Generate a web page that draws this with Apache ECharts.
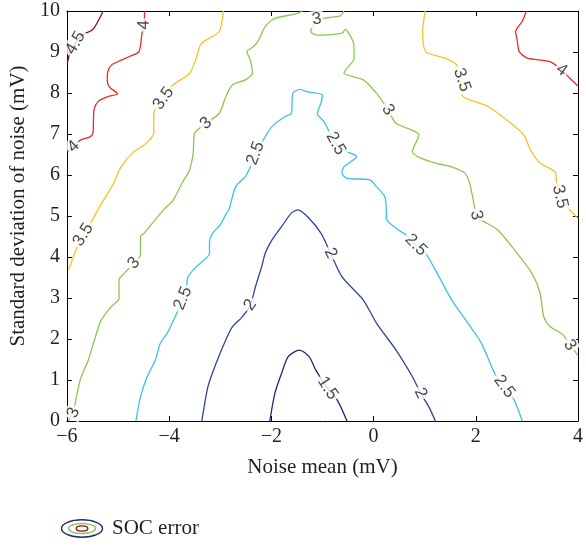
<!DOCTYPE html>
<html lang="en">
<head>
    <meta charset="UTF-8">
    <title>SOC error contour</title>
    <style>
        html, body { margin: 0; padding: 0; background: #fff; }
    </style>
</head>
<body>
<div id="container" style="width: 586px;height:548px;"></div>

<script src="https://cdn.jsdelivr.net/npm/echarts@6/dist/echarts.min.js"></script>
<script type="text/javascript">

// tick labels
var xTicks = [-6, -4, -2, 0, 2, 4];
var yTicks = [0, 1, 2, 3, 4, 5, 6, 7, 8, 9, 10];

// contour lines, [noise mean, std deviation]
var c15 = [[-2.03,0],[-1.93,0.68],[-1.80,1.16],[-1.67,1.57],[-1.45,1.73],[-1.26,1.57],[-1.13,1.24],[-0.90,0.80],[-0.71,0.51],[-0.52,0]];
var c20 = [[-3.36,0],[-3.24,0.84],[-3.08,1.41],[-2.89,1.98],[-2.76,2.30],[-2.57,2.54],[-2.41,2.83],[-2.31,3.28],[-2.19,3.76],[-2.12,4.09],[-1.99,4.41],[-1.80,4.74],[-1.61,5.07],[-1.48,5.15],[-1.29,4.98],[-1.03,4.58],[-0.84,4.09],[-0.62,3.52],[-0.20,2.95],[0.06,2.38],[0.44,1.73],[0.76,1.08],[0.92,0.68],[1.08,0.35],[1.21,0]];
var c25 = [[-4.65,0],[-4.56,0.59],[-4.43,1.08],[-4.27,1.49],[-4.17,1.90],[-4.04,2.14],[-3.85,2.63],[-3.73,2.99],[-3.66,3.28],[-3.63,3.52],[-3.47,3.76],[-3.21,4.09],[-3.21,4.37],[-3.15,4.58],[-2.99,4.80],[-2.90,5.02],[-2.83,5.15],[-2.70,5.71],[-2.51,5.96],[-2.41,6.20],[-2.31,6.53],[-2.12,6.93],[-1.99,7.18],[-1.74,7.42],[-1.61,7.50],[-1.58,7.99],[-1.45,8.09],[-1.29,8.03],[-1.00,7.95],[-1.03,7.75],[-1.10,7.50],[-0.97,7.30],[-0.87,7.06],[-0.74,6.77],[-0.52,6.57],[-0.33,6.45],[-0.58,6.20],[-0.62,6.04],[-0.52,5.92],[-0.07,5.88],[0.06,5.71],[0.22,5.47],[0.25,5.07],[0.25,4.94],[0.44,4.70],[0.63,4.54],[0.83,4.29],[1.02,4.09],[1.28,3.52],[1.53,2.95],[1.85,2.38],[2.11,1.90],[2.37,1.16],[2.56,0.84],[2.75,0.51],[2.91,0]];
var c30a = [[-5.97,0],[-5.87,0.27],[-5.74,1.00],[-5.58,1.49],[-5.46,1.98],[-5.33,2.46],[-5.13,2.79],[-4.98,2.99],[-4.98,3.44],[-4.88,3.60],[-4.69,3.85],[-4.56,4.05],[-4.56,4.50],[-4.49,4.58],[-4.11,5.15],[-3.92,5.39],[-3.73,5.84],[-3.60,6.12],[-3.53,6.53],[-3.50,7.02],[-3.28,7.26],[-3.02,7.50],[-2.89,7.91],[-2.76,8.20],[-2.51,8.32],[-2.37,8.48],[-2.41,8.80],[-2.48,9.01],[-2.35,9.13],[-2.25,9.29],[-2.12,9.62],[-1.93,9.82],[-1.48,9.94],[-1.40,10]];
var c30b = [[-0.58,10],[-0.65,9.88],[-0.81,9.85],[-1.00,9.82],[-1.11,9.80],[-1.16,9.71],[-1.23,9.50],[-1.10,9.41],[-0.62,9.46],[-0.55,9.55],[-0.49,9.46],[-0.39,9.21],[-0.38,8.85],[-0.55,8.56],[-0.58,8.48],[-0.20,8.32],[0.06,7.99],[0.22,7.71],[0.28,7.59],[0.44,7.26],[0.89,6.98],[0.76,6.57],[0.86,6.45],[1.21,6.29],[1.53,6.20],[1.79,6.04],[1.88,5.80],[1.95,5.39],[2.01,5.02],[2.11,4.90],[2.43,4.66],[2.81,4.09],[3.10,3.60],[3.26,3.11],[3.33,2.54],[3.46,2.30],[3.71,2.10],[3.84,1.85],[3.97,1.65],[4.00,1.59]];
var c35a = [[-2.94,10],[-3.02,9.50],[-3.37,9.21],[-3.47,8.85],[-3.60,8.48],[-3.92,8.20],[-4.11,7.87],[-4.30,7.50],[-4.30,7.02],[-4.49,6.73],[-4.69,6.57],[-4.94,6.20],[-5.07,5.84],[-5.20,5.55],[-5.36,5.23],[-5.52,4.86],[-5.68,4.54],[-5.81,4.21],[-5.97,3.68]];
var c35b = [[1.01,10],[0.96,9.50],[1.02,9.01],[1.40,8.85],[1.63,8.68],[1.73,8.32],[1.73,7.95],[2.24,7.67],[2.69,7.26],[2.94,6.98],[3.07,6.61],[3.26,6.29],[3.55,6.08],[3.58,5.84],[3.65,5.47],[3.84,5.15],[4.00,4.94]];
var c40a = [[-4.48,10],[-4.49,9.66],[-4.53,9.46],[-4.59,9.01],[-4.78,8.89],[-4.94,8.80],[-5.13,8.68],[-5.20,8.52],[-5.21,8.32],[-5.17,8.15],[-5.01,7.98],[-5.20,7.91],[-5.39,7.79],[-5.47,7.59],[-5.49,7.02],[-5.55,6.93],[-5.74,6.85],[-5.87,6.69],[-5.99,6.57]];
var c40b = [[2.99,10],[2.91,9.75],[2.78,9.50],[2.81,9.29],[2.85,9.01],[3.01,8.85],[3.46,8.76],[3.68,8.56],[3.84,8.36],[4.00,8.17]];
var c45 = [[-5.99,8.73],[-5.94,8.98],[-5.83,9.22],[-5.68,9.43],[-5.49,9.55],[-5.29,10]];

// where the level numbers sit on each line
var lab15 = [[-0.90,0.80]];
var lab20 = [[-2.41,2.83],[-0.84,4.09],[0.92,0.68]];
var lab25 = [[-3.73,2.99],[-2.31,6.53],[-0.74,6.77],[0.83,4.29],[2.56,0.84]];
var lab30a = [[-5.87,0.20],[-4.69,3.85],[-3.28,7.26]];
var lab30b = [[-1.11,9.80],[0.28,7.59],[2.01,5.02],[3.84,1.85]];
var lab35a = [[-4.11,7.87],[-5.68,4.54]];
var lab35b = [[1.73,8.32],[3.65,5.47]];
var lab40a = [[-4.49,9.66],[-5.87,6.69]];
var lab40b = [[3.68,8.56]];
var lab45 = [[-5.83,9.22]];

var contours = [
  {level: 1.5, pts: c15, labs: lab15},
  {level: 2, pts: c20, labs: lab20},
  {level: 2.5, pts: c25, labs: lab25},
  {level: 3, pts: c30a, labs: lab30a},
  {level: 3, pts: c30b, labs: lab30b},
  {level: 3.5, pts: c35a, labs: lab35a},
  {level: 3.5, pts: c35b, labs: lab35b},
  {level: 4, pts: c40a, labs: lab40a},
  {level: 4, pts: c40b, labs: lab40b},
  {level: 4.5, pts: c45, labs: lab45}
];

var colors = {
  '1.5': '#1f2a6e',
  '2': '#2c469b',
  '2.5': '#3cc2ea',
  '3': '#8dc752',
  '3.5': '#f9c21f',
  '4': '#ec2a26',
  '4.5': '#7a1517'
};

var serif = '"Liberation Serif", "DejaVu Serif", serif';
var ink = '#231f20';

function fmt(v) {
  return v < 0 ? '\u2212' + Math.abs(v) : String(v);
}

// legend icon: three nested rings like the original
var iconSvg = '<svg xmlns="http://www.w3.org/2000/svg" width="44" height="20" viewBox="0 0 44 20">' +
  '<ellipse cx="22" cy="10" rx="20.5" ry="8.7" fill="none" stroke="#1f2a7b" stroke-width="1.4"/>' +
  '<ellipse cx="22" cy="10" rx="13.5" ry="5" fill="none" stroke="#8dc752" stroke-width="1.4"/>' +
  '<ellipse cx="22" cy="10" rx="5.8" ry="2.6" fill="none" stroke="#8b1a1a" stroke-width="1.4"/>' +
  '</svg>';
var icon = 'image://data:image/svg+xml;charset=utf-8,' + encodeURIComponent(iconSvg);

var dom = document.getElementById("container");
var myChart = echarts.init(dom);

function axisX(pos, labels) {
  return {
    type: 'value', position: pos,
    min: xTicks[0], max: xTicks[xTicks.length - 1], interval: 2,
    axisLine: {show: true, onZero: false, lineStyle: {color: '#000', width: 1}},
    axisTick: {show: true, inside: true, length: 5, lineStyle: {color: '#000'}},
    axisLabel: {show: labels, formatter: fmt, fontFamily: serif, fontSize: 20, color: ink, margin: 6},
    splitLine: {show: false},
    name: labels ? 'Noise mean (mV)' : '',
    nameLocation: 'middle', nameGap: 36,
    nameTextStyle: {fontFamily: serif, fontSize: 21, color: ink}
  };
}

function axisY(pos, labels) {
  return {
    type: 'value', position: pos,
    min: yTicks[0], max: yTicks[yTicks.length - 1], interval: 1,
    axisLine: {show: true, onZero: false, lineStyle: {color: '#000', width: 1}},
    axisTick: {show: true, inside: true, length: 5, lineStyle: {color: '#000'}},
    axisLabel: {show: labels, formatter: fmt, fontFamily: serif, fontSize: 20, color: ink, margin: 7},
    splitLine: {show: false},
    name: labels ? 'Standard deviation of noise (mV)' : '',
    nameLocation: 'middle', nameGap: 36,
    nameTextStyle: {fontFamily: serif, fontSize: 21, color: ink, padding: [0, 0, 0, 20]}
  };
}

var series = [];
for (var i = 0; i < contours.length; i++) {
  series.push({
    name: 'SOC error',
    type: 'line',
    data: contours[i].pts,
    showSymbol: false,
    smooth: 0.25,
    silent: true,
    lineStyle: {color: colors[String(contours[i].level)], width: 1.3},
    itemStyle: {color: colors[String(contours[i].level)]},
    z: 2
  });
}

var option = {
  animation: false,
  grid: {left: 65, right: 1, top: 11, bottom: 127, containLabel: false},
  legend: {
    left: 60, top: 518, padding: 0,
    itemWidth: 44, itemHeight: 20, itemGap: 10,
    selectedMode: false,
    data: [{name: 'SOC error', icon: icon}],
    textStyle: {fontFamily: serif, fontSize: 21, color: ink, padding: [0, 0, 0, 3]}
  },
  xAxis: [axisX('bottom', true), axisX('top', false)],
  yAxis: [axisY('left', true), axisY('right', false)],
  series: series
};

myChart.setOption(option);

// level numbers: turn each one along its line
function angleAt(pts, p) {
  var pp = myChart.convertToPixel({gridIndex: 0}, p);
  var best = 1e9, ang = 0;
  for (var k = 0; k < pts.length - 1; k++) {
    var a = myChart.convertToPixel({gridIndex: 0}, pts[k]);
    var b = myChart.convertToPixel({gridIndex: 0}, pts[k + 1]);
    var dx = b[0] - a[0], dy = b[1] - a[1];
    var L = dx * dx + dy * dy || 1;
    var t = ((pp[0] - a[0]) * dx + (pp[1] - a[1]) * dy) / L;
    t = Math.max(0, Math.min(1, t));
    var qx = a[0] + t * dx - pp[0], qy = a[1] + t * dy - pp[1];
    var d = qx * qx + qy * qy;
    if (d < best) {
      best = d;
      ang = Math.atan2(-dy, dx) * 180 / Math.PI;
    }
  }
  if (ang > 90) ang -= 180;
  if (ang <= -90) ang += 180;
  return ang;
}

var labelSeries = [];
for (var i = 0; i < contours.length; i++) {
  var items = [];
  for (var j = 0; j < contours[i].labs.length; j++) {
    items.push({
      value: contours[i].labs[j],
      label: {rotate: angleAt(contours[i].pts, contours[i].labs[j])}
    });
  }
  labelSeries.push({
    name: 'level' + i,
    type: 'scatter',
    data: items,
    symbolSize: 1,
    silent: true,
    itemStyle: {color: 'rgba(0,0,0,0)'},
    z: 5,
    label: {
      show: true,
      position: 'inside',
      formatter: String(contours[i].level),
      fontFamily: '"Liberation Sans", Arial, sans-serif',
      fontSize: 17,
      color: '#1a1a1a',
      backgroundColor: '#fff',
      padding: [0, 2]
    }
  });
}

myChart.setOption({series: series.concat(labelSeries)});

</script>
</body>
</html>
